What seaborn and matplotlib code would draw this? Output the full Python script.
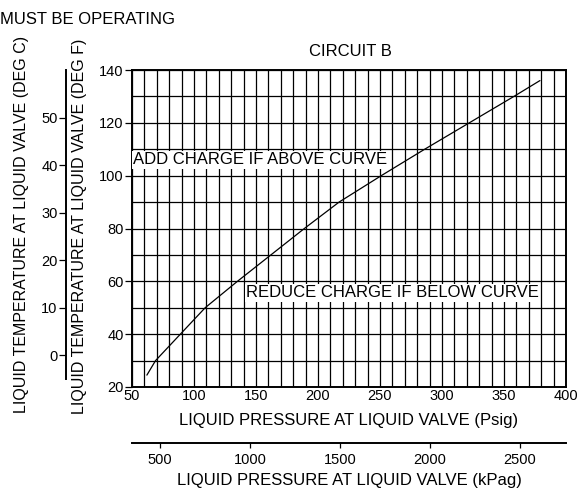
import matplotlib
matplotlib.use("Agg")
import matplotlib.pyplot as plt
import seaborn as sns
import numpy as np
import pandas as pd

# Charging curve for circuit B: liquid pressure (psig) vs liquid temperature (deg F)
pressure_psig = [62, 69, 89, 109, 135, 162, 189, 217, 251, 286, 322, 358, 379]
temp_f = [24.5, 30, 40, 50, 60, 70, 80, 90, 100, 110, 120, 130, 136]

x_ticks_psig = [50, 100, 150, 200, 250, 300, 350, 400]
y_ticks_f = [20, 40, 60, 80, 100, 120, 140]
y_ticks_c = [0, 10, 20, 30, 40, 50]
x_ticks_kpa = [500, 1000, 1500, 2000, 2500]

title = "CIRCUIT B"
header = "MUST BE OPERATING"
label_above = "ADD CHARGE IF ABOVE CURVE"
label_below = "REDUCE CHARGE IF BELOW CURVE"
xlabel_psig = "LIQUID PRESSURE AT LIQUID VALVE (Psig)"
xlabel_kpa = "LIQUID PRESSURE AT LIQUID VALVE (kPag)"
ylabel_f = "LIQUID TEMPERATURE AT LIQUID VALVE (DEG F)"
ylabel_c = "LIQUID TEMPERATURE AT LIQUID VALVE (DEG C)"

PSI_TO_KPA = 6.894757


def f_to_c(f):
    return (f - 32.0) * 5.0 / 9.0


sns.set_theme(style="white")
plt.rcParams["font.family"] = ["Liberation Sans", "DejaVu Sans"]
plt.rcParams["text.color"] = "black"
plt.rcParams["axes.labelcolor"] = "black"
plt.rcParams["xtick.color"] = "black"
plt.rcParams["ytick.color"] = "black"

W, H = 582, 492
fig = plt.figure(figsize=(W / 100, H / 100), dpi=100)
fig.patch.set_facecolor("white")


def fx(px):
    return px / W


def fy(py):
    return 1 - py / H


# main chart area
left, right, top, bottom = 132, 566, 70, 387
ax = fig.add_axes([fx(left), fy(bottom), fx(right - left), (bottom - top) / H])
ax.set_facecolor("white")

df = pd.DataFrame({"psig": pressure_psig, "degF": temp_f})
sns.lineplot(data=df, x="psig", y="degF", sort=False, color="black",
             linewidth=0.9, ax=ax)

ax.set_xlim(50, 400)
ax.set_ylim(20, 140)
ax.set_xticks(x_ticks_psig)
ax.set_xticks(np.arange(50, 401, 10), minor=True)
ax.set_yticks(y_ticks_f)
ax.set_yticks(np.arange(20, 141, 10), minor=True)
ax.grid(which="both", color="black", linewidth=0.9)
ax.set_axisbelow(True)
for s in ax.spines.values():
    s.set_color("black")
    s.set_linewidth(1.4)
ax.tick_params(axis="y", which="major", direction="out", length=5, width=0.9,
               pad=1, labelsize=10.5, left=True)
ax.tick_params(axis="x", which="major", direction="out", length=0, pad=1.5,
               labelsize=10.5, bottom=True)
ax.tick_params(which="minor", length=0)
ax.set_xlabel(xlabel_psig, fontsize=12, labelpad=7)
ax.set_ylabel("")

ax.text(50.8, 106, label_above, fontsize=12, ha="left", va="center",
        bbox=dict(facecolor="white", edgecolor="none", pad=1.0))
ax.text(142, 55.7, label_below, fontsize=12, ha="left", va="center",
        bbox=dict(facecolor="white", edgecolor="none", pad=1.0))

fig.text(fx(350), fy(51), title, fontsize=12, ha="center", va="center")
fig.text(0.0, fy(19), header, fontsize=12, ha="left", va="center")
fig.text(fx(80), fy(226), ylabel_f, fontsize=11.5, rotation=90,
         ha="center", va="center")
fig.text(fx(22), fy(224), ylabel_c, fontsize=11.5, rotation=90,
         ha="center", va="center")

# Celsius scale on the far left
axc = fig.add_axes([fx(66), fy(bottom), 0.001, (bottom - top) / H])
axc.set_ylim(f_to_c(20), f_to_c(140))
axc.set_xticks([])
axc.set_yticks(y_ticks_c)
axc.patch.set_visible(False)
for k in ("top", "right", "bottom"):
    axc.spines[k].set_visible(False)
axc.spines["left"].set_bounds(-5, 60)
axc.spines["left"].set_linewidth(1.4)
axc.spines["left"].set_color("black")
axc.tick_params(axis="y", direction="out", length=5, width=0.9, pad=1,
                labelsize=10.5, left=True)

# kPa scale below the chart
axk = fig.add_axes([fx(left), fy(443), fx(right - left), 0.001])
axk.set_xlim(50 * PSI_TO_KPA, 400 * PSI_TO_KPA)
axk.set_yticks([])
axk.set_xticks(x_ticks_kpa)
axk.patch.set_visible(False)
for k in ("top", "right", "left"):
    axk.spines[k].set_visible(False)
axk.spines["bottom"].set_linewidth(1.4)
axk.spines["bottom"].set_color("black")
axk.tick_params(axis="x", direction="out", length=3.5, width=0.9, pad=4,
                labelsize=10.5, bottom=True)
axk.set_xlabel(xlabel_kpa, fontsize=12, labelpad=4)

fig.savefig("out.png", dpi=100, facecolor="white")
